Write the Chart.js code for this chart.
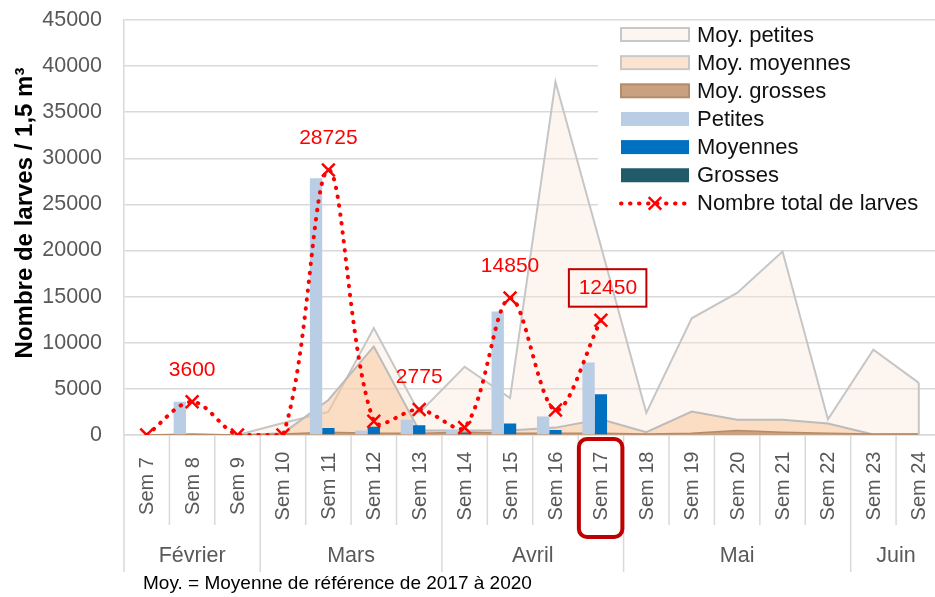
<!DOCTYPE html>
<html><head><meta charset="utf-8">
<script src="https://cdn.jsdelivr.net/npm/chart.js@4/dist/chart.umd.min.js"></script>
<style>html,body{margin:0;padding:0;overflow:hidden;background:#fff}</style>
</head><body>
<canvas id="c" width="953" height="597"></canvas>
<script>
// ---- data ----
const weeks = ['Sem 7','Sem 8','Sem 9','Sem 10','Sem 11','Sem 12','Sem 13','Sem 14','Sem 15','Sem 16','Sem 17','Sem 18','Sem 19','Sem 20','Sem 21','Sem 22','Sem 23','Sem 24'];
const monthNames = ['Février','Mars','Avril','Mai','Juin'];
const monthSpans = [3,4,4,5,2];
const moyPetites  = [0,0,0,1300,2500,11600,2400,7400,4000,38300,20500,2400,12650,15400,19900,1700,9250,5650];
const moyMoyennes = [0,0,0,200,3800,9600,500,500,500,800,1700,300,2550,1650,1650,1250,50,100];
const moyGrosses  = [0,100,0,100,300,200,200,300,200,200,200,100,200,500,300,200,100,100];
const petites  = [0,3600,0,0,27850,500,1650,550,13400,2000,7850,null,null,null,null,null,null,null];
const moyennes = [0,0,0,0,750,900,1050,250,1250,550,4420,null,null,null,null,null,null,null];
const grosses  = [0,0,0,0,0,0,0,0,0,0,0,null,null,null,null,null,null,null];
const totalLarves = [0,3600,0,0,28725,1500,2775,800,14850,2700,12450,null,null,null,null,null,null,null];
const labelledWeeks = ['Sem 8','Sem 11','Sem 13','Sem 15','Sem 17'];
const highlightedWeek = 'Sem 17';
const yMin = 0, yMax = 45000, yStep = 5000;
const yTitle = 'Nombre de larves / 1,5 m³';
const footnote = 'Moy. = Moyenne de référence de 2017 à 2020';

const FONT = '"Liberation Sans", Arial, sans-serif';
Chart.defaults.font.family = FONT;

const legendIcons = [
  {kind:'area', fill:'#FDF5EF', stroke:'#C8C8C8'},
  {kind:'area', fill:'#FCE3CF', stroke:'#C8C8C8'},
  {kind:'area', fill:'#C9A080', stroke:'#B38C6C'},
  {kind:'bar', fill:'#B9CDE5'},
  {kind:'bar', fill:'#0070C0'},
  {kind:'bar', fill:'#215A69'},
  {kind:'line', stroke:'#FF0000'}
];

const decorPlugin = {
  id: 'decor',
  afterDatasetsDraw(chart) {
    const ctx = chart.ctx;
    ctx.save();
    // closing edge of the reference area at its last point
    const am = chart.getDatasetMeta(0);
    const last = am.data[am.data.length - 1];
    ctx.strokeStyle = '#C6C6C6'; ctx.lineWidth = 2;
    ctx.beginPath(); ctx.moveTo(last.x, last.y); ctx.lineTo(last.x, chart.scales.y.getPixelForValue(0)); ctx.stroke();

    const meta = chart.getDatasetMeta(6);
    ctx.font = '21px ' + FONT;
    ctx.fillStyle = '#FF0000';
    ctx.textAlign = 'center';
    ctx.textBaseline = 'middle';
    labelledWeeks.forEach(wk => {
      const i = weeks.indexOf(wk);
      const p = meta.data[i];
      let x = p.x, y = p.y - 32;
      if (wk === highlightedWeek) {
        x += 7;
        ctx.strokeStyle = '#C00000';
        ctx.lineWidth = 2;
        ctx.strokeRect(x - 39, y - 19, 77.5, 37.5);
      }
      ctx.fillText(String(totalLarves[i]), x, y);
    });
    ctx.restore();
  },
  afterDraw(chart) {
    const ctx = chart.ctx, xs = chart.scales.x, a = chart.chartArea;
    const w = xs.getPixelForValue(1) - xs.getPixelForValue(0);
    ctx.save();
    // separators below axis
    ctx.strokeStyle = '#D9D9D9'; ctx.lineWidth = 1.5;
    const bounds = new Set([0]); let acc = 0;
    monthSpans.forEach(n => { acc += n; bounds.add(acc); });
    for (let i = 0; i <= weeks.length; i++) {
      const x = xs.getPixelForValue(0) - w / 2 + i * w;
      ctx.beginPath(); ctx.moveTo(x, a.bottom); ctx.lineTo(x, bounds.has(i) ? 572 : 525); ctx.stroke();
    }
    // week labels
    ctx.fillStyle = '#595959'; ctx.font = '20px ' + FONT;
    ctx.textAlign = 'center'; ctx.textBaseline = 'middle';
    weeks.forEach((wk, i) => {
      const x = xs.getPixelForValue(i);
      ctx.save(); ctx.translate(x + 1, 486); ctx.rotate(-Math.PI / 2); ctx.fillText(wk, 0, 0); ctx.restore();
    });
    // month labels
    ctx.font = '21.5px ' + FONT;
    let start = 0;
    monthNames.forEach((m, k) => {
      const n = monthSpans[k];
      const x = (xs.getPixelForValue(start) + xs.getPixelForValue(start + n - 1)) / 2;
      ctx.fillText(m, x, 556);
      start += n;
    });
    // highlight box on axis label
    const hi = weeks.indexOf(highlightedWeek);
    const hx = xs.getPixelForValue(hi);
    ctx.strokeStyle = '#C00000'; ctx.lineWidth = 4;
    ctx.beginPath();
    ctx.roundRect(hx - 22, 439, 43.5, 98, 8);
    ctx.stroke();
    // footnote
    ctx.fillStyle = '#000'; ctx.font = '19px ' + FONT; ctx.textAlign = 'left';
    ctx.fillText(footnote, 143, 584);
    // y title
    ctx.font = 'bold 24px ' + FONT; ctx.textAlign = 'center';
    ctx.save(); ctx.translate(25, 213); ctx.rotate(-Math.PI / 2); ctx.fillText(yTitle, 0, 0); ctx.restore();
    // legend
    ctx.fillStyle = '#fff';
    ctx.fillRect(598, a.top + 1, a.right - 598 + 2, 212);
    ctx.font = '22px ' + FONT; ctx.textAlign = 'left';
    chart.data.datasets.forEach((ds, i) => {
      const y = 34.5 + i * 28.15;
      const ic = legendIcons[i];
      if (ic.kind === 'area') {
        ctx.fillStyle = ic.fill; ctx.fillRect(621, y - 6.5, 68, 13);
        ctx.strokeStyle = ic.stroke; ctx.lineWidth = 2; ctx.strokeRect(621, y - 6.5, 68, 13);
      } else if (ic.kind === 'bar') {
        ctx.fillStyle = ic.fill; ctx.fillRect(621, y - 7, 68, 14);
      } else {
        ctx.strokeStyle = ic.stroke; ctx.lineWidth = 4; ctx.lineCap = 'round';
        ctx.setLineDash([0.5, 8.5]);
        ctx.beginPath(); ctx.moveTo(621, y); ctx.lineTo(689, y); ctx.stroke();
        ctx.setLineDash([]); ctx.lineWidth = 2.5; ctx.lineCap = 'butt';
        const r = 6.3;
        ctx.beginPath(); ctx.moveTo(655 - r, y - r); ctx.lineTo(655 + r, y + r);
        ctx.moveTo(655 + r, y - r); ctx.lineTo(655 - r, y + r); ctx.stroke();
      }
      ctx.fillStyle = '#111';
      ctx.fillText(ds.label, 697, y + 1);
    });
    ctx.restore();
  }
};

new Chart(document.getElementById('c'), {
  type: 'bar',
  data: {
    labels: weeks,
    datasets: [
      {type:'line', label:'Moy. petites', data: moyPetites, fill:'origin', backgroundColor:'rgba(250,228,212,0.38)', borderColor:'#C6C6C6', borderWidth:2, pointRadius:0, tension:0, order:6},
      {type:'line', label:'Moy. moyennes', data: moyMoyennes, fill:'origin', backgroundColor:'rgba(247,200,160,0.55)', borderColor:'rgba(185,185,185,0.95)', borderWidth:2, pointRadius:0, tension:0, order:5},
      {type:'line', label:'Moy. grosses', data: moyGrosses, fill:'origin', backgroundColor:'#C9A080', borderColor:'#B38C6C', borderWidth:1.5, pointRadius:0, tension:0, order:4},
      {type:'bar', label:'Petites', data: petites, backgroundColor:'#B9CDE5', categoryPercentage:0.815, barPercentage:1, order:1},
      {type:'bar', label:'Moyennes', data: moyennes, backgroundColor:'#0070C0', categoryPercentage:0.815, barPercentage:1, order:2},
      {type:'bar', label:'Grosses', data: grosses, backgroundColor:'#215A69', categoryPercentage:0.815, barPercentage:1, order:3},
      {type:'line', label:'Nombre total de larves', data: totalLarves, fill:false, borderColor:'#FF0000', borderWidth:4, borderDash:[0.5,8.5], borderCapStyle:'round', tension:0.33, pointStyle:'crossRot', pointRadius:9, pointBorderWidth:2.5, pointBorderColor:'#FF0000', pointBackgroundColor:'#FF0000', spanGaps:false, order:0}
    ]
  },
  options: {
    responsive:false, animation:false, devicePixelRatio:1,
    layout:{padding:{top:20,right:1,left:0,bottom:0}},
    plugins:{legend:{display:false}, tooltip:{enabled:false}},
    scales:{
      x:{offset:true, grid:{display:false}, border:{display:true,color:'#D9D9D9',width:1.5}, ticks:{display:false}, afterFit(s){ s.height = 162; }},
      y:{min:yMin, max:yMax, ticks:{stepSize:yStep, color:'#595959', font:{size:21.5}, padding:0, callback:(v)=>String(v)}, grid:{color:'#D9D9D9', lineWidth:1.5, drawTicks:true, tickLength:22, tickColor:'rgba(0,0,0,0)'}, border:{display:true,color:'#D9D9D9',width:1.5}, afterFit(s){ s.width = 124; }}
    }
  },
  plugins:[decorPlugin]
});
</script>
</body></html>
